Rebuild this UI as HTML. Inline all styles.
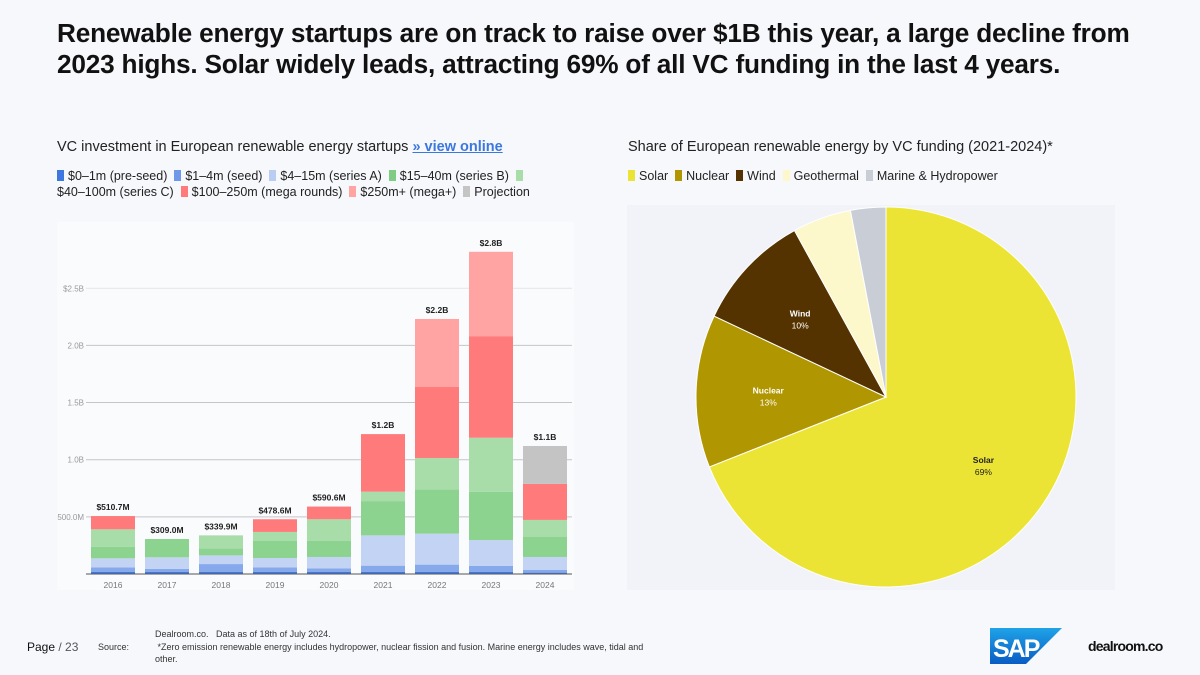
<!DOCTYPE html>
<html><head><meta charset="utf-8">
<style>
body{margin:0;width:1200px;height:675px;background:#f7f8fc;font-family:"Liberation Sans",sans-serif;overflow:hidden;position:relative;color:#111}
.t{position:absolute}
h1{position:absolute;left:57px;top:18px;margin:0;font-size:26.2px;line-height:31px;font-weight:bold;color:#111;width:1095px;letter-spacing:-0.2px}
.lg{font-size:12.5px;color:#222;line-height:16px}
.sw{display:inline-block;width:7px;height:11px;margin-right:4px;vertical-align:-1px}
</style></head><body>
<h1>Renewable energy startups are on track to raise over $1B this year, a large decline from 2023 highs. Solar widely leads, attracting 69% of all VC funding in the last 4 years.</h1>

<div class="t" style="left:57px;top:139px;font-size:14.5px;color:#222">VC investment in European renewable energy startups <a style="color:#3a78e0;font-weight:bold;text-decoration:underline">» view online</a></div>
<div class="t lg" style="left:57px;top:168px;width:480px">
<span><i class="sw" style="background:#3f77e0"></i>$0–1m (pre-seed)</span>&nbsp;
<span><i class="sw" style="background:#6f98ea"></i>$1–4m (seed)</span>&nbsp;
<span><i class="sw" style="background:#b9cdf3"></i>$4–15m (series A)</span>&nbsp;
<span><i class="sw" style="background:#7fcc84"></i>$15–40m (series B)</span>&nbsp;
<span><i class="sw" style="background:#a8dca9"></i><br>$40–100m (series C)</span>&nbsp;
<span><i class="sw" style="background:#ff7b7b"></i>$100–250m (mega rounds)</span>&nbsp;
<span><i class="sw" style="background:#ffa3a3"></i>$250m+ (mega+)</span>&nbsp;
<span><i class="sw" style="background:#c4c4c4"></i>Projection</span>
</div>

<div class="t" style="left:628px;top:139px;font-size:14.5px;color:#222">Share of European renewable energy by VC funding (2021-2024)*</div>
<div class="t lg" style="left:628px;top:168px">
<span><i class="sw" style="background:#ece435"></i>Solar</span>&nbsp;
<span><i class="sw" style="background:#b09600"></i>Nuclear</span>&nbsp;
<span><i class="sw" style="background:#553300"></i>Wind</span>&nbsp;
<span><i class="sw" style="background:#fdf7cc"></i>Geothermal</span>&nbsp;
<span><i class="sw" style="background:#c9cdd6"></i>Marine &amp; Hydropower</span>
</div>

<svg id="bar" class="t" style="left:0;top:0" width="600" height="610"></svg>
<svg id="pie" class="t" style="left:0;top:0" width="1200" height="610"></svg>

<div class="t" style="left:27px;top:640px;font-size:12px"><b style="font-weight:normal">Page</b> <span style="color:#555">/ 23</span></div>
<div class="t" style="left:98px;top:642px;font-size:9px;color:#333">Source:</div>
<div class="t" style="left:155px;top:628px;font-size:9px;line-height:12.5px;color:#333;width:505px">Dealroom.co.&nbsp;&nbsp; Data as of 18th of July 2024.<br>&nbsp;*Zero emission renewable energy includes hydropower, nuclear fission and fusion. Marine energy includes wave, tidal and other.</div>
<svg class="t" style="left:990px;top:628px" width="72" height="36"><defs><linearGradient id="g" x1="0" y1="0" x2="0" y2="1"><stop offset="0" stop-color="#1fa3e8"/><stop offset="1" stop-color="#0a5cc4"/></linearGradient></defs><polygon points="0,0 72,0 36,36 0,36" fill="url(#g)"/><text x="3" y="29" font-size="25" font-weight="bold" fill="#fff" font-family="Liberation Sans" letter-spacing="-2">SAP</text></svg>
<div class="t" style="left:1088px;top:638px;font-size:14px;font-weight:bold;letter-spacing:-0.8px">dealroom.co</div>

<script>
const years=['2016','2017','2018','2019','2020','2021','2022','2023','2024'];
const preseed=[20,20,20,20,20,20,20,20,12];
const seed=[38,24,67,38,30,53,62,50,23];
const seriesA=[79,102,76,82,99,265,271,227,114];
const seriesB=[102,160,62,149,140,300,388,423,178];
const seriesC=[152,0,113,79,190,82,274,472,146];
const mega=[116,0,0,111,111,504,621,889,315];
const megaPlus=[0,0,0,0,0,0,595,738,0];
const projection=[0,0,0,0,0,0,0,0,332];
const totalLabels=['$510.7M','$309.0M','$339.9M','$478.6M','$590.6M','$1.2B','$2.2B','$2.8B','$1.1B'];
const yTicks=[500,1000,1500,2000,2500];
const yTickLabels=['500.0M','1.0B','1.5B','2.0B','$2.5B'];

const NS='http://www.w3.org/2000/svg';
function mk(p,tag,a){const e=document.createElementNS(NS,tag);for(const k in a)e.setAttribute(k,a[k]);p.appendChild(e);return e;}
const bar=document.getElementById('bar');
const y0=574,k=0.1143,x0=86,x1=572,step=(x1-x0)/years.length,bw=44;
const yS=v=>y0-v*k, xS=i=>x0+step*(i+0.5);
let bg=mk(bar,'rect',{x:57,y:222,width:517,height:368,fill:'#fafbfd'});


yTicks.forEach((t,i)=>{
 const g=mk(bar,'line',{x1:x0,x2:x1,y1:yS(t),y2:yS(t),stroke:i==4?'#e4e5ea':'#c4c5ca','stroke-width':1});
 
 
 const l=mk(bar,'text',{x:x0-2,y:yS(t)+3,'font-size':8,fill:'#999','text-anchor':'end','font-family':'Liberation Sans'});
 l.textContent=yTickLabels[i];
 
 
});
const series=[[preseed,'#3f77e0'],[seed,'#86a9ec'],[seriesA,'#c2d3f3'],[seriesB,'#8cd38f'],[seriesC,'#a8dca9'],[mega,'#ff7b7b'],[megaPlus,'#ffa3a3'],[projection,'#c4c4c4']];
const names=['preseed','seed','series-a','series-b','series-c','mega','megaplus','projection'];
years.forEach((yr,i)=>{
 let acc=0;
 series.forEach(([arr,c],s)=>{
  const v=arr[i]; if(!v)return;
  const r=mk(bar,'rect',{x:xS(i)-bw/2,y:yS(acc+v),width:bw,height:v*k,fill:c});
  
  
  acc+=v;
 });
 const tl=mk(bar,'text',{x:xS(i),y:yS(acc)-6,'font-size':8.5,'font-weight':'bold',fill:'#222','text-anchor':'middle','font-family':'Liberation Sans'});
 tl.textContent=totalLabels[i];
 
 
 const xl=mk(bar,'text',{x:xS(i),y:y0+14,'font-size':8.5,fill:'#777','text-anchor':'middle','font-family':'Liberation Sans'});
 xl.textContent=yr;
 
 
});
const ax=mk(bar,'line',{x1:x0,x2:x1,y1:y0,y2:y0,stroke:'#555','stroke-width':1});



// pie
const pieLabels=['Solar','Nuclear','Wind','Geothermal','Marine & Hydropower'];
const pieValues=[69,13,10,5,3];
const pieColors=['#ece435','#b09600','#553300','#fdf7cc','#c9cdd6'];
const pie=document.getElementById('pie');
const pb=mk(pie,'rect',{x:627,y:205,width:488,height:385,fill:'#f2f3f8'});


const cx=886,cy=397,R=190;
const tot=pieValues.reduce((a,b)=>a+b,0);
let a0=0;
pieValues.forEach((v,i)=>{
 const a1=a0+v/tot*2*Math.PI;
 const p=(a)=>[cx+R*Math.sin(a),cy-R*Math.cos(a)];
 const [sx,sy]=p(a0),[ex,ey]=p(a1);
 const s=mk(pie,'path',{d:`M${cx},${cy}L${sx},${sy}A${R},${R} 0 ${a1-a0>Math.PI?1:0} 1 ${ex},${ey}Z`,fill:pieColors[i],stroke:'#fff','stroke-width':1});
 
 
 if(v>=10){
  const m=(a0+a1)/2,rr=R*0.62;
  const lx=cx+rr*Math.sin(m),ly=cy-rr*Math.cos(m);
  const col=i==0?'#222':'#fff';
  const t1=mk(pie,'text',{x:lx,y:ly,'font-size':8.5,'font-weight':'bold',fill:col,'text-anchor':'middle','font-family':'Liberation Sans'});
  t1.textContent=pieLabels[i];
  
  
  const t2=mk(pie,'text',{x:lx,y:ly+12,'font-size':8.5,fill:col,'text-anchor':'middle','font-family':'Liberation Sans'});
  t2.textContent=v+'%';
  
  
 }
 a0=a1;
});
</script>
</body></html>
